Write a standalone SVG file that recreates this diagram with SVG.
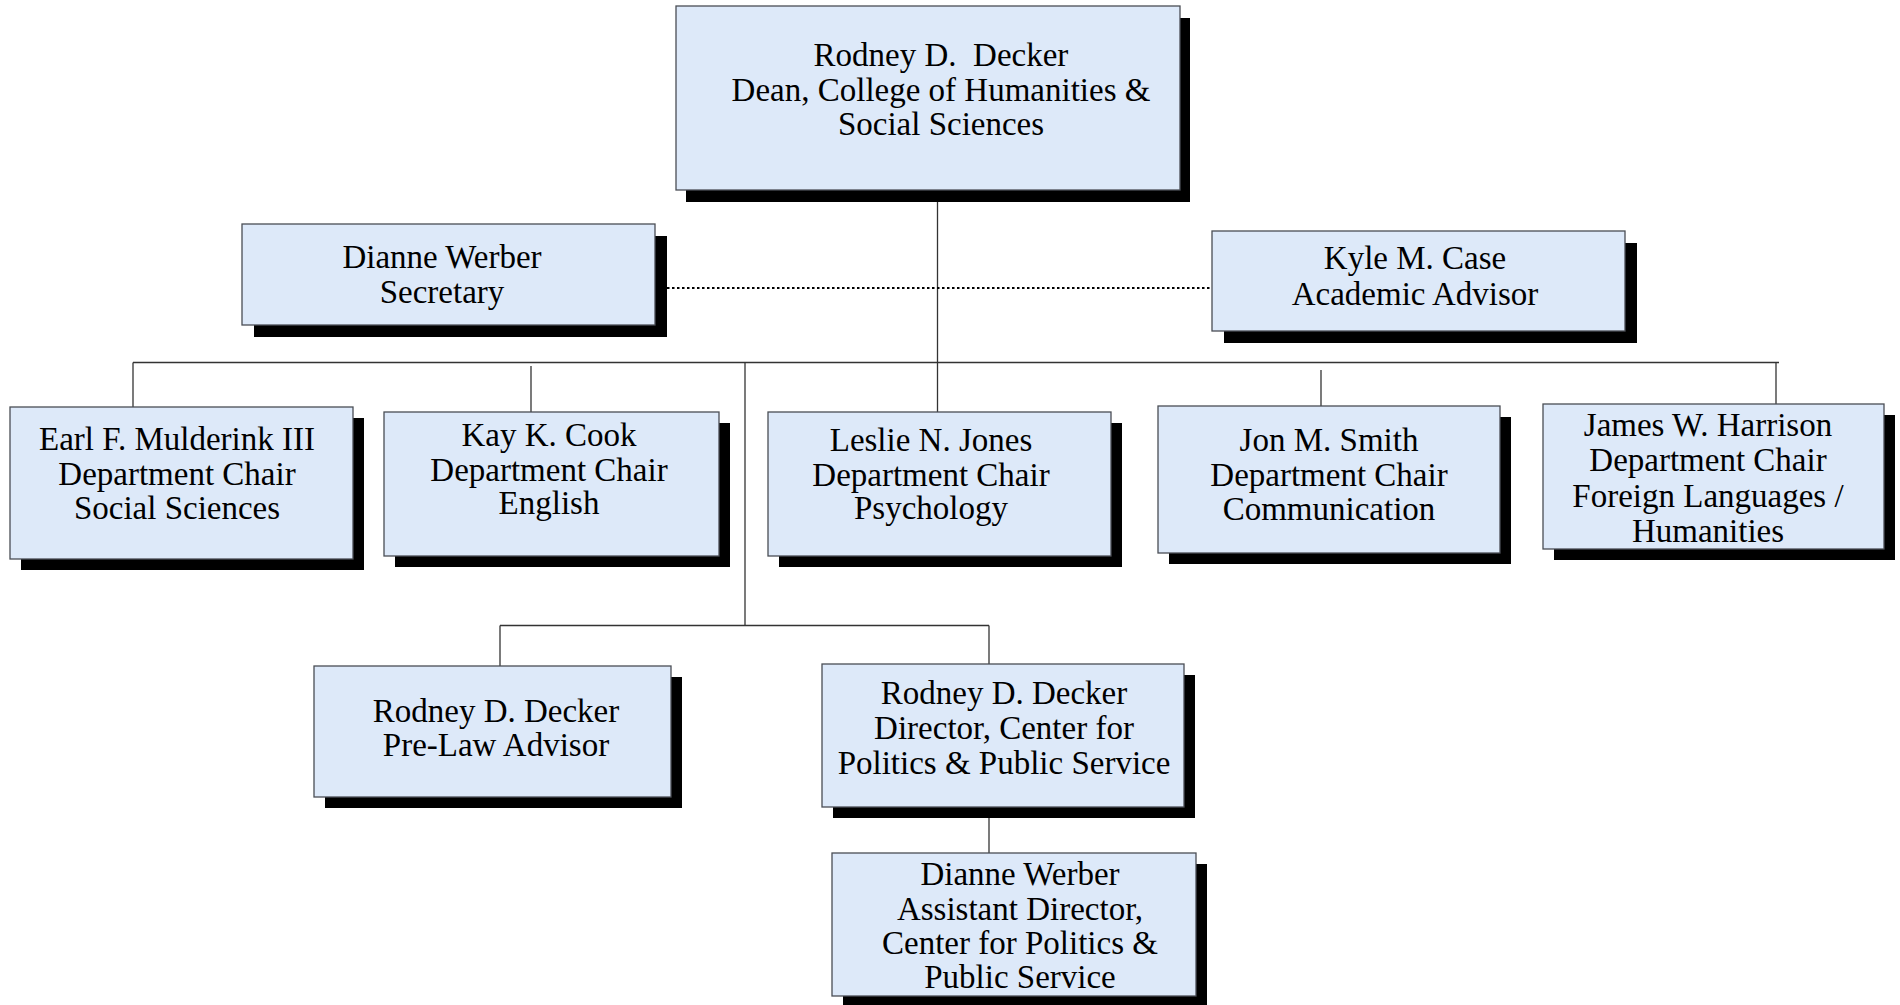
<svg xmlns="http://www.w3.org/2000/svg" width="1900" height="1005" viewBox="0 0 1900 1005">
<style>
.box{fill:#dde9f9;stroke:#4a4e55;stroke-width:1.3}
.sh{fill:#000}
.t{font-family:"Liberation Serif","Times New Roman",serif;font-size:33px;fill:#000;text-anchor:middle;white-space:pre}
.c{stroke:#333;stroke-width:1.3;fill:none}
.d{stroke:#000;stroke-width:2;stroke-dasharray:2.5 2.5;fill:none}
</style>
<rect width="1900" height="1005" fill="#fff"/>
<g id="connectors">
<path class="c" d="M937.5 190V362.5"/>
<path class="d" d="M667 288H1212"/>
<path class="c" d="M133 362.5H1779"/>
<path class="c" d="M133 362.5V407"/>
<path class="c" d="M531 366V412"/>
<path class="c" d="M937.5 362.5V412"/>
<path class="c" d="M1321 370V406"/>
<path class="c" d="M1776 362.5V404"/>
<path class="c" d="M745 362.5V625.5"/>
<path class="c" d="M500 625.5H989"/>
<path class="c" d="M500 625.5V666"/>
<path class="c" d="M989 625.5V664"/>
<path class="c" d="M989 807V853"/>
</g>
<g id="dean">
<rect class="sh" x="686" y="18" width="504" height="184"/>
<rect class="box" x="676" y="6" width="504" height="184"/>
<text class="t" x="941" y="66">Rodney D.  Decker</text>
<text class="t" x="941" y="101">Dean, College of Humanities &amp;</text>
<text class="t" x="941" y="135">Social Sciences</text>
</g>
<g id="secretary">
<rect class="sh" x="254" y="236" width="413" height="101"/>
<rect class="box" x="242" y="224" width="413" height="101"/>
<text class="t" x="442" y="268">Dianne Werber</text>
<text class="t" x="442" y="303">Secretary</text>
</g>
<g id="advisor">
<rect class="sh" x="1224" y="243" width="413" height="100"/>
<rect class="box" x="1212" y="231" width="413" height="100"/>
<text class="t" x="1415" y="269">Kyle M. Case</text>
<text class="t" x="1415" y="305">Academic Advisor</text>
</g>
<g id="social">
<rect class="sh" x="21" y="418" width="343" height="152"/>
<rect class="box" x="10" y="407" width="343" height="152"/>
<text class="t" x="177" y="450">Earl F. Mulderink III</text>
<text class="t" x="177" y="485">Department Chair</text>
<text class="t" x="177" y="519">Social Sciences</text>
</g>
<g id="english">
<rect class="sh" x="395" y="423" width="335" height="144"/>
<rect class="box" x="384" y="412" width="335" height="144"/>
<text class="t" x="549" y="446">Kay K. Cook</text>
<text class="t" x="549" y="481">Department Chair</text>
<text class="t" x="549" y="514">English</text>
</g>
<g id="psychology">
<rect class="sh" x="779" y="423" width="343" height="144"/>
<rect class="box" x="768" y="412" width="343" height="144"/>
<text class="t" x="931" y="451">Leslie N. Jones</text>
<text class="t" x="931" y="486">Department Chair</text>
<text class="t" x="931" y="519">Psychology</text>
</g>
<g id="communication">
<rect class="sh" x="1169" y="417" width="342" height="147"/>
<rect class="box" x="1158" y="406" width="342" height="147"/>
<text class="t" x="1329" y="451">Jon M. Smith</text>
<text class="t" x="1329" y="486">Department Chair</text>
<text class="t" x="1329" y="520">Communication</text>
</g>
<g id="languages">
<rect class="sh" x="1554" y="415" width="341" height="145"/>
<rect class="box" x="1543" y="404" width="341" height="145"/>
<text class="t" x="1708" y="436">James W. Harrison</text>
<text class="t" x="1708" y="471">Department Chair</text>
<text class="t" x="1708" y="507">Foreign Languages /</text>
<text class="t" x="1708" y="542">Humanities</text>
</g>
<g id="prelaw">
<rect class="sh" x="325" y="677" width="357" height="131"/>
<rect class="box" x="314" y="666" width="357" height="131"/>
<text class="t" x="496" y="722">Rodney D. Decker</text>
<text class="t" x="496" y="756">Pre-Law Advisor</text>
</g>
<g id="director">
<rect class="sh" x="833" y="675" width="362" height="143"/>
<rect class="box" x="822" y="664" width="362" height="143"/>
<text class="t" x="1004" y="704">Rodney D. Decker</text>
<text class="t" x="1004" y="739">Director, Center for</text>
<text class="t" x="1004" y="774">Politics &amp; Public Service</text>
</g>
<g id="assistant">
<rect class="sh" x="843" y="864" width="364" height="143"/>
<rect class="box" x="832" y="853" width="364" height="143"/>
<text class="t" x="1020" y="885">Dianne Werber</text>
<text class="t" x="1020" y="920">Assistant Director,</text>
<text class="t" x="1020" y="954">Center for Politics &amp;</text>
<text class="t" x="1020" y="988">Public Service</text>
</g>
</svg>
